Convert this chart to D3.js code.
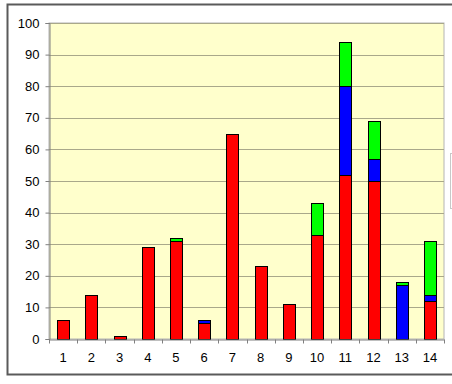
<!DOCTYPE html>
<html>
<head>
<meta charset="utf-8">
<script src="https://cdn.jsdelivr.net/npm/d3@7"></script>
<style>
  body { margin: 0; background: #fff; }
  svg { display: block; }
</style>
</head>
<body>
<div id="chart"></div>
<script>
// categories on the x axis
const categories = ['1', '2', '3', '4', '5', '6', '7', '8', '9', '10', '11', '12', '13', '14']
// stacked series, bottom to top
const redValues = [6, 14, 1, 29, 31, 5, 65, 23, 11, 33, 52, 50, 0, 12]
const blueValues = [0, 0, 0, 0, 0, 1, 0, 0, 0, 0, 28, 7, 17, 2]
const greenValues = [0, 0, 0, 0, 1, 0, 0, 0, 0, 10, 14, 12, 1, 17]
const yTicks = [0, 10, 20, 30, 40, 50, 60, 70, 80, 90, 100]

const width = 452
const height = 384
const margin = { top: 23, right: 8, bottom: 45, left: 49 }
const innerWidth = width - margin.left - margin.right
const innerHeight = height - margin.top - margin.bottom

const svg = d3.select('#chart').append('svg')
  .attr('width', width)
  .attr('height', height)

// outer chart frame (right side falls off the picture)
svg.append('rect')
  .attr('x', 7.5).attr('y', 4.5)
  .attr('width', 470).attr('height', 370)
  .attr('fill', '#fff')
  .attr('stroke', '#5a5a5a')
  .attr('stroke-width', 2)

// sliver of legend box at the right edge
svg.append('rect')
  .attr('x', 450.5).attr('y', 153.5)
  .attr('width', 40).attr('height', 55)
  .attr('fill', '#fff')
  .attr('stroke', '#c8c8c8')

const g = svg.append('g')
  .attr('transform', `translate(${margin.left},${margin.top})`)

const xScale = d3.scaleBand()
  .domain(categories)
  .range([0, innerWidth])
  .paddingInner(0.58)
  .paddingOuter(0.29)

const yScale = d3.scaleLinear()
  .domain([0, 100])
  .range([innerHeight, 0])

// plot background
g.append('rect')
  .attr('width', innerWidth)
  .attr('height', innerHeight)
  .attr('fill', '#ffffcc')
  .attr('stroke', '#b4b4b4')

// grid lines
g.append('g')
  .selectAll('line')
  .data(yTicks.filter(d => d > 0))
  .join('line')
    .attr('x1', 0).attr('x2', innerWidth)
    .attr('y1', d => Math.round(yScale(d)) + 0.5)
    .attr('y2', d => Math.round(yScale(d)) + 0.5)
    .attr('stroke', '#a9a88a')

// stacked data
const data = categories.map((c, i) => ({ cat: c, red: redValues[i], blue: blueValues[i], green: greenValues[i] }))
const stack = d3.stack().keys(['red', 'blue', 'green'])(data)
const colors = { red: '#ff0000', blue: '#0000ff', green: '#00ff00' }

g.append('g')
  .selectAll('g')
  .data(stack)
  .join('g')
    .attr('fill', d => colors[d.key])
  .selectAll('rect')
  .data(d => d.filter(p => p[1] - p[0] > 0))
  .join('rect')
    .attr('x', d => Math.round(xScale(d.data.cat)) + 0.5)
    .attr('y', d => Math.round(yScale(d[1])) + 0.5)
    .attr('width', Math.round(xScale.bandwidth()))
    .attr('height', d => Math.round(yScale(d[0])) - Math.round(yScale(d[1])))
    .attr('stroke', '#000')
    .attr('stroke-width', 1)

// y axis
const yAxis = d3.axisLeft(yScale)
  .tickValues(yTicks)
  .tickSize(4)
  .tickPadding(6)
g.append('g')
  .attr('transform', 'translate(0.5,0)')
  .call(yAxis)
  .call(s => s.select('.domain').attr('stroke', '#808080'))
  .call(s => s.selectAll('.tick line').attr('stroke', '#808080'))
  .call(s => s.selectAll('text')
    .style('font-family', 'Liberation Sans, Arial, sans-serif')
    .style('font-size', '13px')
    .attr('fill', '#000'))

// x axis, ticks sit between categories
const xAxis = d3.axisBottom(xScale)
  .tickSize(0)
  .tickPadding(13)
const xg = g.append('g')
  .attr('transform', `translate(0,${innerHeight + 0.5})`)
  .call(xAxis)
xg.select('.domain').attr('stroke', '#808080')
xg.selectAll('text')
  .style('font-family', 'Liberation Sans, Arial, sans-serif')
  .style('font-size', '13px')
  .attr('fill', '#000')
xg.selectAll('.sep')
  .data(d3.range(categories.length + 1))
  .join('line')
    .attr('class', 'sep')
    .attr('x1', i => Math.round(i * innerWidth / categories.length) + 0.5)
    .attr('x2', i => Math.round(i * innerWidth / categories.length) + 0.5)
    .attr('y1', 0).attr('y2', 4)
    .attr('stroke', '#808080')
</script>
</body>
</html>
